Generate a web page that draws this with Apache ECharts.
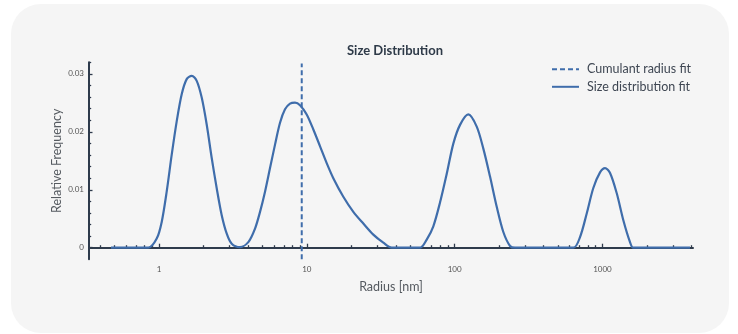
<!DOCTYPE html>
<html>
<head>
<meta charset="utf-8">
<script src="https://cdn.jsdelivr.net/npm/echarts@6/dist/echarts.min.js"></script>
<style>
  html, body { margin: 0; padding: 0; background: #ffffff; }
  #chart { width: 738px; height: 334px; }
</style>
</head>
<body>
<div id="chart"></div>
<script>
// Radius [nm] (log axis) and relative frequency
var radius = [0.473, 0.846, 0.965, 1.043, 1.127, 1.219, 1.318, 1.424, 1.539, 1.664, 1.799, 1.945, 2.102, 2.273, 2.457, 2.656, 2.872, 3.104, 3.532,
  4.021, 4.462, 4.825, 5.215, 5.637, 6.093, 6.587, 7.12, 7.698, 8.323, 8.995, 9.98, 11.07, 12.29, 13.63, 15.11, 17.66, 20.64, 24.12, 28.18, 32.93, 37.53,
  58.33, 64.75, 71.77, 79.65, 88.44, 98.0, 108.8, 123.8, 141.1, 156.4, 173.6, 192.7, 213.6, 237.1, 256.3,
  635.6, 705.4, 783.0, 867.8, 963.4, 1041, 1126, 1250, 1385, 1537, 1618, 3914];
var frequency = [0, 0, 0.00157, 0.00445, 0.00967, 0.01605, 0.02184, 0.02649, 0.0291, 0.02967, 0.0288, 0.02591, 0.02127, 0.01548, 0.01026, 0.00562, 0.00243, 0.0007, 0.0001,
  0.00097, 0.0033, 0.00619, 0.00967, 0.01374, 0.01779, 0.02157, 0.02388, 0.02487, 0.02504, 0.0246, 0.0230, 0.0204, 0.0175, 0.0146, 0.0120, 0.0088, 0.0062, 0.00417, 0.00226, 0.00087, 0,
  0, 0.0014, 0.0037, 0.0078, 0.01275, 0.01797, 0.0212, 0.0230, 0.0209, 0.0171, 0.01228, 0.00706, 0.00271, 0.0003, 0,
  0, 0.00184, 0.00591, 0.0103, 0.0130, 0.01374, 0.0129, 0.00939, 0.00475, 0.00097, 0, 0];
var cumulantRadius = 9.24;
var cumulantSpan = [-0.002, 0.0318];

var xMajorTicks = [1, 10, 100, 1000];
var xMinorTicks = [0.4, 0.5, 0.6, 0.7, 0.8, 0.9, 2, 3, 4, 5, 6, 7, 8, 9, 20, 30, 40, 50, 60, 70, 80, 90,
  200, 300, 400, 500, 600, 700, 800, 900, 2000, 3000, 4000];
var yMajorTicks = [0, 0.01, 0.02, 0.03];
var yMinorTicks = [0.002, 0.004, 0.006, 0.008, 0.012, 0.014, 0.016, 0.018, 0.022, 0.024, 0.026, 0.028, 0.032];

var seriesNames = ['Cumulant radius fit', 'Size distribution fit'];
var titleText = 'Size Distribution';
var xName = 'Radius [nm]';
var yName = 'Relative Frequency';

var lineColor = '#3f6dab';
var axisColor = '#2e3b4c';
var FONT = 'Lato';

var sizeData = radius.map(function (r, i) { return [r, frequency[i]]; });
var cumData = cumulantSpan.map(function (v) { return [cumulantRadius, v]; });

var xMin = 0.336, xMax = 4100, yMin = -0.002, yMax = 0.032;

function plainNum(v) { return String(+Number(v).toPrecision(6)); }

var chart = echarts.init(document.getElementById('chart'), null, { renderer: 'canvas' });
chart.setOption({
  backgroundColor: '#ffffff',
  animation: false,
  textStyle: { fontFamily: FONT },
  graphic: [{
    type: 'rect', z: -100, silent: true,
    shape: { x: 11, y: 4, width: 718, height: 329, r: 30 },
    style: { fill: '#f5f5f5' }
  }],
  title: {
    text: titleText, left: 342, top: 39,
    textStyle: { fontFamily: FONT, fontSize: 13, fontWeight: 'bold', color: '#2e3a48' }
  },
  legend: {
    orient: 'vertical', left: 551, top: 62.7, padding: 0, itemWidth: 27, itemHeight: 10, itemGap: 4.6,
    align: 'left',
    itemStyle: { opacity: 0 },
    textStyle: { fontFamily: FONT, fontSize: 12.5, color: '#3f4753', padding: [0, 0, 0, 3] },
    data: seriesNames
  },
  grid: { left: 89, right: 45, top: 62.3, bottom: 74.7, containLabel: false },
  xAxis: [{
    type: 'log', min: xMin, max: xMax, position: 'bottom',
    name: xName, nameLocation: 'middle', nameGap: 21, nameMoveOverlap: false,
    nameTextStyle: { fontFamily: FONT, fontSize: 12.5, color: '#555a60' },
    axisLine: { show: true, lineStyle: { color: axisColor, width: 2 } },
    axisTick: { show: true, inside: true, length: 4, customValues: xMajorTicks, lineStyle: { color: axisColor, width: 1.3 } },
    axisLabel: { show: true, customValues: xMajorTicks, formatter: plainNum, fontFamily: FONT, fontSize: 8, color: '#555', margin: 6 },
    splitLine: { show: false }, minorTick: { show: false }
  }, {
    type: 'log', min: xMin, max: xMax, position: 'bottom', offset: 0,
    axisLine: { show: false },
    axisTick: { show: true, inside: true, length: 2.5, customValues: xMinorTicks, lineStyle: { color: axisColor, width: 1.3 } },
    axisLabel: { show: false },
    splitLine: { show: false }
  }],
  yAxis: [{
    type: 'value', min: yMin, max: yMax, position: 'left',
    name: yName, nameLocation: 'middle', nameGap: 26, nameMoveOverlap: false,
    nameTextStyle: { fontFamily: FONT, fontSize: 12.5, color: '#555a60' },
    axisLine: { show: true, lineStyle: { color: axisColor, width: 2 } },
    axisTick: { show: true, inside: true, length: 3.5, customValues: yMajorTicks, lineStyle: { color: axisColor, width: 1.3 } },
    axisLabel: { show: true, customValues: yMajorTicks, formatter: plainNum, fontFamily: FONT, fontSize: 8, color: '#555', margin: 5 },
    splitLine: { show: false }
  }, {
    type: 'value', min: yMin, max: yMax, position: 'left', offset: 0,
    axisLine: { show: false },
    axisTick: { show: true, inside: true, length: 2.2, customValues: yMinorTicks, lineStyle: { color: axisColor, width: 1.3 } },
    axisLabel: { show: false },
    splitLine: { show: false }
  }],
  series: [{
    name: seriesNames[0], type: 'line', xAxisIndex: 0, yAxisIndex: 0,
    data: cumData, symbol: 'none', showSymbol: false,
    lineStyle: { color: lineColor, width: 2, type: [5, 3] },
    itemStyle: { color: lineColor }
  }, {
    name: seriesNames[1], type: 'line', xAxisIndex: 0, yAxisIndex: 0,
    data: sizeData, symbol: 'none', showSymbol: false, smooth: 0.3,
    lineStyle: { color: lineColor, width: 2.2 },
    itemStyle: { color: lineColor }
  }]
});
</script>
</body>
</html>
